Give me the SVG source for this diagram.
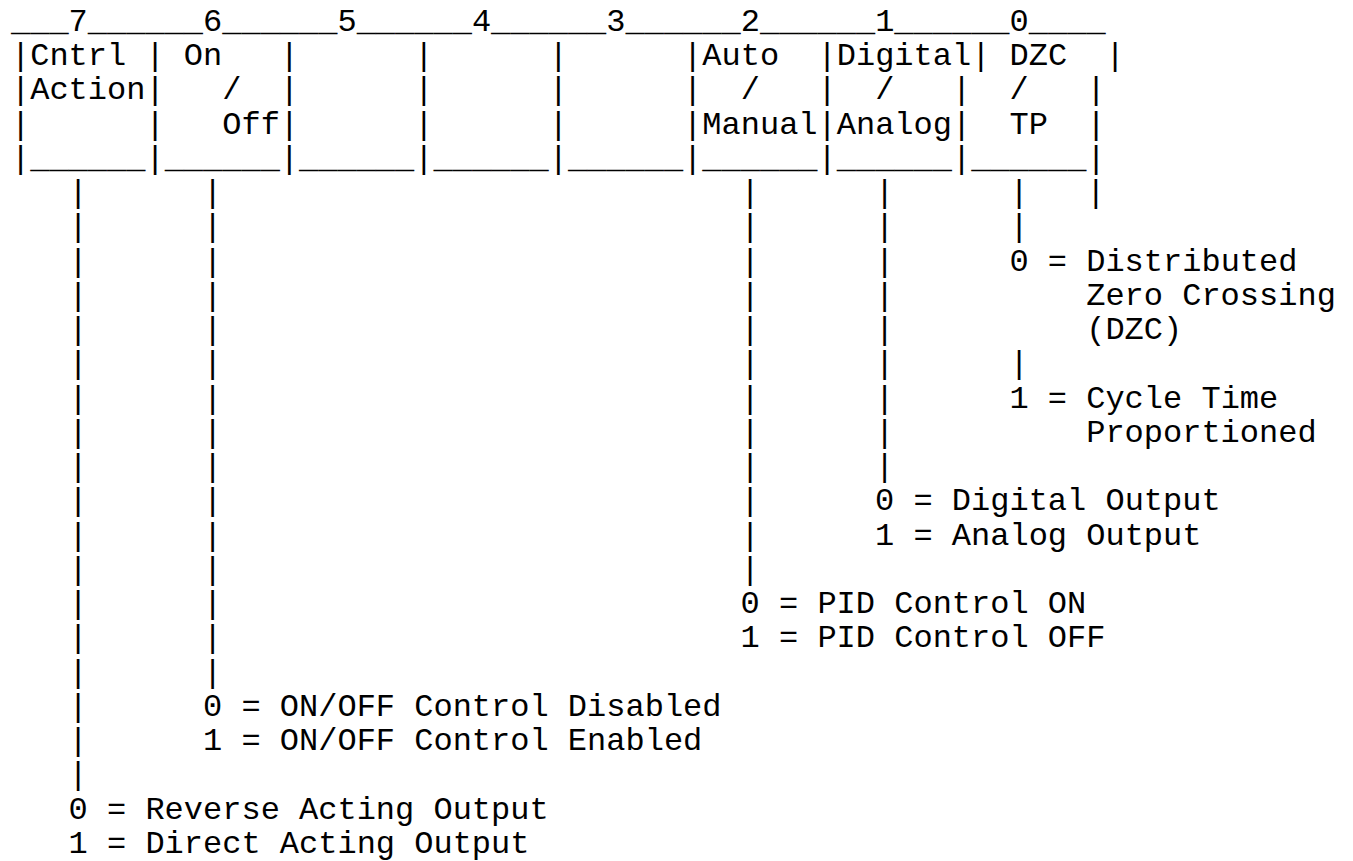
<svg xmlns="http://www.w3.org/2000/svg" width="1353" height="861" viewBox="0 0 1353 861" xml:space="preserve">
<style>
.t{font-family:"Liberation Mono","DejaVu Sans Mono",monospace;font-size:32px;fill:#000;white-space:pre}
</style>
<rect width="1353" height="861" fill="#fff"/>
<g id="register">
<text class="t" x="11" y="31">___7______6______5______4______3______2______1______0____</text>
<text class="t" x="11" y="65.24">|Cntrl | On   |      |      |      |Auto  |Digital| DZC  |</text>
<text class="t" x="11" y="99.48">|Action|   /  |      |      |      |  /   |  /   |  /   |</text>
<text class="t" x="11" y="133.72">|      |   Off|      |      |      |Manual|Analog|  TP  |</text>
<text class="t" x="11" y="167.96">|______|______|______|______|______|______|______|______|</text>
</g>
<g id="connectors">
<text class="t" x="68.6" y="202.2">|<tspan x="68.6" dy="34.24">|</tspan><tspan x="68.6" dy="34.24">|</tspan><tspan x="68.6" dy="34.24">|</tspan><tspan x="68.6" dy="34.24">|</tspan><tspan x="68.6" dy="34.24">|</tspan><tspan x="68.6" dy="34.24">|</tspan><tspan x="68.6" dy="34.24">|</tspan><tspan x="68.6" dy="34.24">|</tspan><tspan x="68.6" dy="34.24">|</tspan><tspan x="68.6" dy="34.24">|</tspan><tspan x="68.6" dy="34.24">|</tspan><tspan x="68.6" dy="34.24">|</tspan><tspan x="68.6" dy="34.24">|</tspan><tspan x="68.6" dy="34.24">|</tspan><tspan x="68.6" dy="34.24">|</tspan><tspan x="68.6" dy="34.24">|</tspan><tspan x="68.6" dy="34.24">|</tspan></text>
<text class="t" x="203" y="202.2">|<tspan x="203" dy="34.24">|</tspan><tspan x="203" dy="34.24">|</tspan><tspan x="203" dy="34.24">|</tspan><tspan x="203" dy="34.24">|</tspan><tspan x="203" dy="34.24">|</tspan><tspan x="203" dy="34.24">|</tspan><tspan x="203" dy="34.24">|</tspan><tspan x="203" dy="34.24">|</tspan><tspan x="203" dy="34.24">|</tspan><tspan x="203" dy="34.24">|</tspan><tspan x="203" dy="34.24">|</tspan><tspan x="203" dy="34.24">|</tspan><tspan x="203" dy="34.24">|</tspan><tspan x="203" dy="34.24">|</tspan></text>
<text class="t" x="740.6" y="202.2">|<tspan x="740.6" dy="34.24">|</tspan><tspan x="740.6" dy="34.24">|</tspan><tspan x="740.6" dy="34.24">|</tspan><tspan x="740.6" dy="34.24">|</tspan><tspan x="740.6" dy="34.24">|</tspan><tspan x="740.6" dy="34.24">|</tspan><tspan x="740.6" dy="34.24">|</tspan><tspan x="740.6" dy="34.24">|</tspan><tspan x="740.6" dy="34.24">|</tspan><tspan x="740.6" dy="34.24">|</tspan><tspan x="740.6" dy="34.24">|</tspan></text>
<text class="t" x="875" y="202.2">|<tspan x="875" dy="34.24">|</tspan><tspan x="875" dy="34.24">|</tspan><tspan x="875" dy="34.24">|</tspan><tspan x="875" dy="34.24">|</tspan><tspan x="875" dy="34.24">|</tspan><tspan x="875" dy="34.24">|</tspan><tspan x="875" dy="34.24">|</tspan><tspan x="875" dy="34.24">|</tspan></text>
<text class="t" x="1009.4" y="202.2">|<tspan x="1009.4" dy="34.24">|</tspan></text>
<text class="t" x="1009.4" y="373.4">|</text>
<text class="t" x="1086.2" y="202.2">|</text>
</g>
<g id="bit0">
<text class="t" x="1009.4" y="270.68">0 = Distributed</text>
<text class="t" x="1086.2" y="304.92">Zero Crossing</text>
<text class="t" x="1086.2" y="339.16">(DZC)</text>
<text class="t" x="1009.4" y="407.64">1 = Cycle Time</text>
<text class="t" x="1086.2" y="441.88">Proportioned</text>
</g>
<g id="bit1">
<text class="t" x="875" y="510.36">0 = Digital Output</text>
<text class="t" x="875" y="544.6">1 = Analog Output</text>
</g>
<g id="bit2">
<text class="t" x="740.6" y="613.08">0 = PID Control ON</text>
<text class="t" x="740.6" y="647.32">1 = PID Control OFF</text>
</g>
<g id="bit6">
<text class="t" x="203" y="715.8">0 = ON/OFF Control Disabled</text>
<text class="t" x="203" y="750.04">1 = ON/OFF Control Enabled</text>
</g>
<g id="bit7">
<text class="t" x="68.6" y="818.52">0 = Reverse Acting Output</text>
<text class="t" x="68.6" y="852.76">1 = Direct Acting Output</text>
</g>
</svg>
